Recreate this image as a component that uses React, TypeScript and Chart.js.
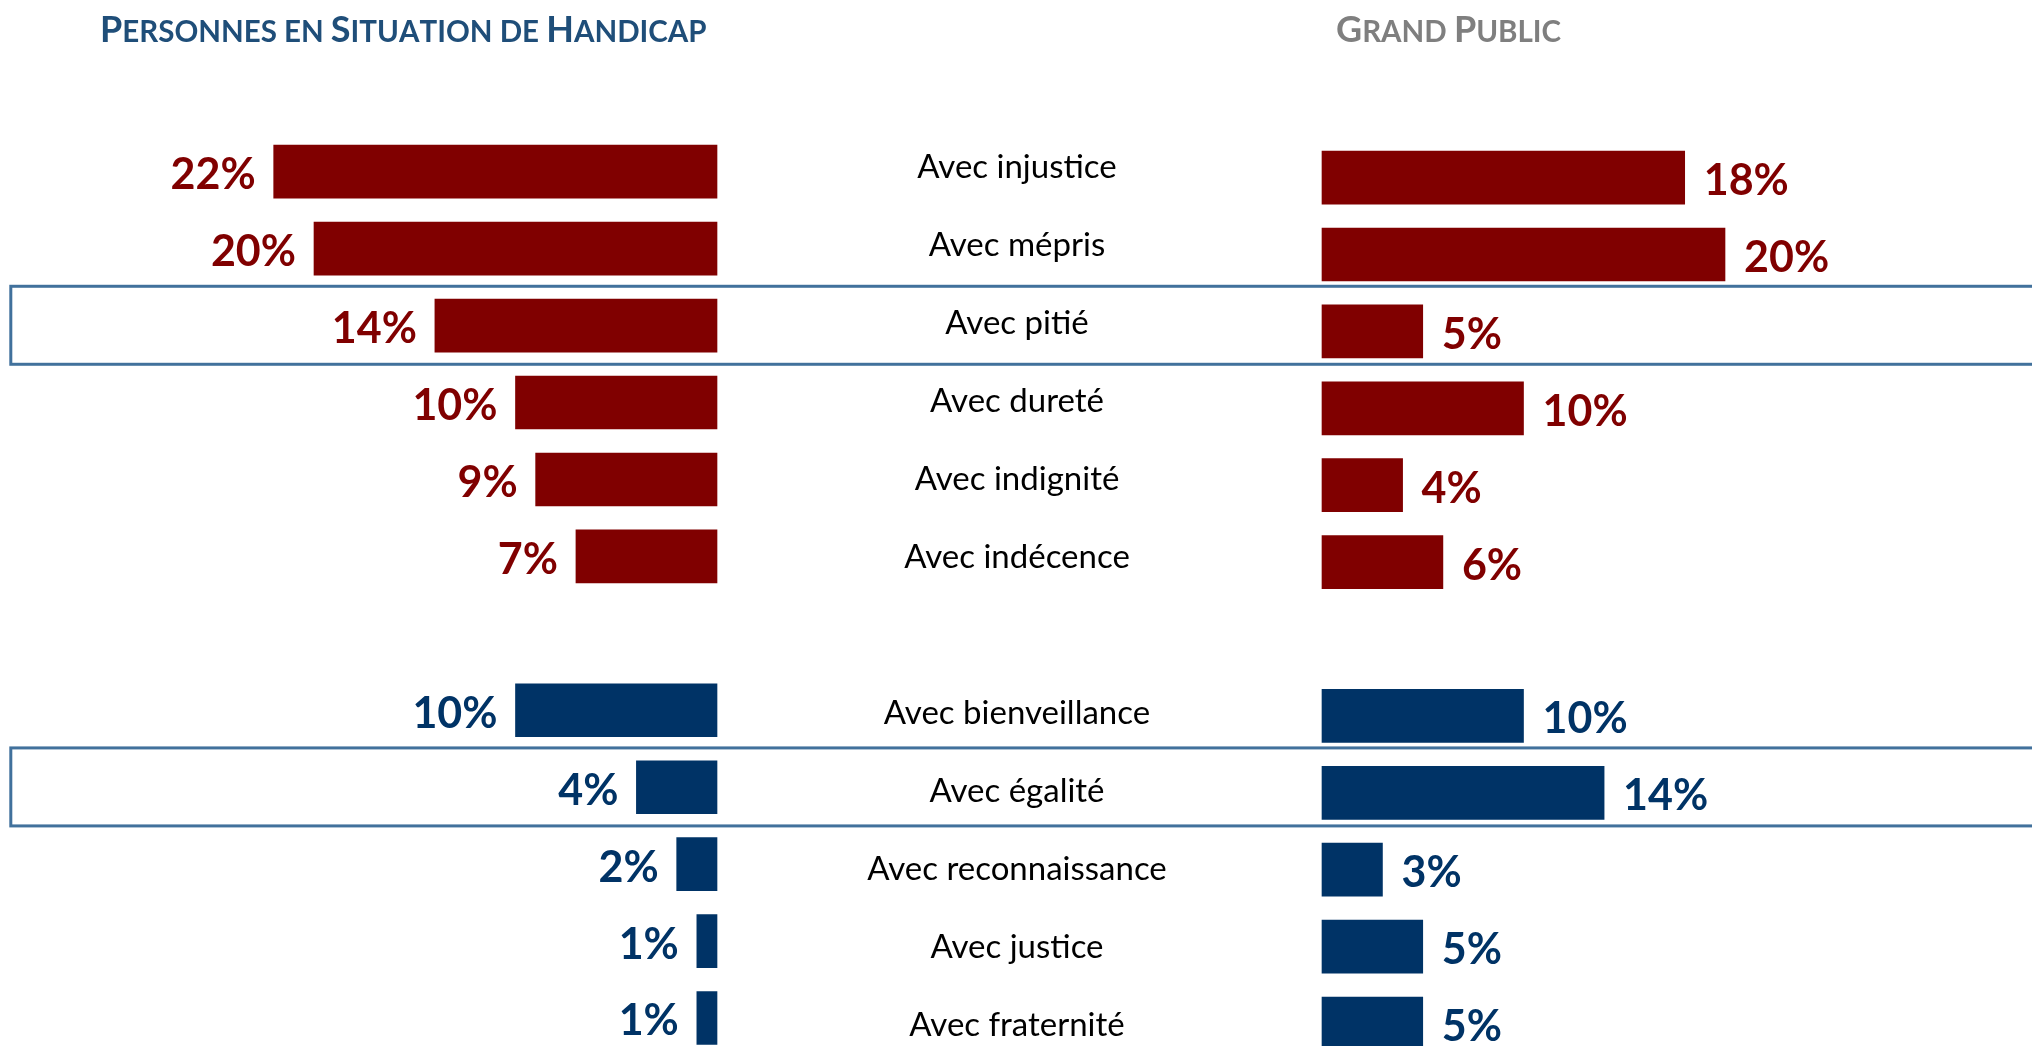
import React, { useEffect, useRef } from 'react';
import { Chart, registerables } from 'chart.js';

Chart.register(...registerables);

// ---------------- DATA ----------------
const negativeCategories = ['Avec injustice', 'Avec mépris', 'Avec pitié', 'Avec dureté', 'Avec indignité', 'Avec indécence'];
const positiveCategories = ['Avec bienveillance', 'Avec égalité', 'Avec reconnaissance', 'Avec justice', 'Avec fraternité'];
const pshNegative = [22, 20, 14, 10, 9, 7];
const gpNegative = [18, 20, 5, 10, 4, 6];
const pshPositive = [10, 4, 2, 1, 1];
const gpPositive = [10, 14, 3, 5, 5];
const highlightedCategories = ['Avec pitié', 'Avec égalité'];
const leftTitle = 'Personnes en Situation de Handicap';
const rightTitle = 'Grand Public';

// rows: negative feelings, one empty row, positive feelings
const rowLabels = [...negativeCategories, '', ...positiveCategories];
const negRows = negativeCategories.map((_, i) => i);
const posRows = positiveCategories.map((_, i) => negativeCategories.length + 1 + i);

// ---------------- STYLE / LAYOUT ----------------
const W = 2032;
const H = 1046;
const MAROON = '#800000';
const NAVY = '#003366';
const BOX_COLOR = '#41719C';
const LEFT_TITLE_COLOR = '#1F4E79';
const RIGHT_TITLE_COLOR = '#7F7F7F';
const FONT = 'Lato, Carlito, Calibri, "Noto Sans", sans-serif';
const PX_PER_PCT = 20.15;
const LEFT_ZERO_PX = 717;
const RIGHT_ZERO_PX = 1322;
const LABEL_CENTER_X = 1017;
const CAP = 0.717;

function forwardRange(anchor: number, ppu: number, len: number) {
  return { min: -anchor / ppu, max: (len - anchor) / ppu };
}
function reversedXRange(anchor: number, ppu: number, len: number) {
  return { min: (anchor - len) / ppu, max: anchor / ppu };
}

const xLRange = reversedXRange(LEFT_ZERO_PX, PX_PER_PCT, W);
const xRRange = forwardRange(RIGHT_ZERO_PX, PX_PER_PCT, W);
const yLRange = forwardRange(171.7, 76.94, H);
const yRRange = forwardRange(177.6, 76.9, H);
const yTRange = forwardRange(166.5, 78.0, H);

function drawSmallCaps(ctx: CanvasRenderingContext2D, text: string, x: number, baseline: number, big: number, small: number, color: string) {
  ctx.save();
  ctx.fillStyle = color;
  ctx.textAlign = 'left';
  ctx.textBaseline = 'alphabetic';
  let cx = x;
  for (const ch of text) {
    const isUpper = ch !== ch.toLowerCase();
    ctx.font = `bold ${isUpper ? big : small}px ${FONT}`;
    const c = ch.toUpperCase();
    ctx.fillText(c, cx, baseline);
    cx += ctx.measureText(c).width;
  }
  ctx.restore();
}

const overlayPlugin = {
  id: 'overlay',
  beforeDatasetsDraw(chart: any) {
    const ctx = chart.ctx as CanvasRenderingContext2D;
    const yL = chart.scales.yL;
    ctx.save();
    ctx.strokeStyle = BOX_COLOR;
    ctx.lineWidth = 3;
    highlightedCategories.forEach((cat) => {
      const r = rowLabels.indexOf(cat);
      const yc = yL.getPixelForValue(r);
      ctx.strokeRect(10.8, yc - 39.3, W + 40, 78);
    });
    ctx.restore();
  },
  afterDatasetsDraw(chart: any) {
    const ctx = chart.ctx as CanvasRenderingContext2D;
    // value labels
    const valueSize = 43;
    chart.data.datasets.forEach((ds: any, di: number) => {
      const meta = chart.getDatasetMeta(di);
      ctx.save();
      ctx.font = `bold ${valueSize}px ${FONT}`;
      ctx.fillStyle = ds.backgroundColor;
      ctx.textBaseline = 'alphabetic';
      meta.data.forEach((el: any, i: number) => {
        const v = ds.data[i].x;
        const y = el.y + 2 + (CAP * valueSize) / 2;
        if (ds.side === 'left') {
          ctx.textAlign = 'right';
          ctx.fillText(`${v}%`, el.x - 18, y);
        } else {
          ctx.textAlign = 'left';
          ctx.fillText(`${v}%`, el.x + 19, y);
        }
      });
      ctx.restore();
    });
    // category labels
    const yT = chart.scales.yT;
    const catSize = 33;
    ctx.save();
    ctx.font = `${catSize}px ${FONT}`;
    ctx.fillStyle = '#000000';
    ctx.textAlign = 'center';
    ctx.textBaseline = 'alphabetic';
    rowLabels.forEach((lab, r) => {
      if (!lab) return;
      ctx.fillText(lab, LABEL_CENTER_X, yT.getPixelForValue(r) + (CAP * catSize) / 2);
    });
    ctx.restore();
    // titles
    drawSmallCaps(ctx, leftTitle, 100, 41.5, 36, 29.5, LEFT_TITLE_COLOR);
    drawSmallCaps(ctx, rightTitle, 1336, 41.5, 36, 29.5, RIGHT_TITLE_COLOR);
  },
};

const hiddenLinear = (range: { min: number; max: number }, reverse: boolean, position: string) => ({
  type: 'linear',
  position,
  reverse,
  display: false,
  offset: false,
  bounds: 'data',
  grid: { offset: false },
  ticks: { includeBounds: false, stepSize: 1 },
  min: range.min,
  max: range.max,
});

export default function App() {
  const canvasRef = useRef<HTMLCanvasElement | null>(null);

  useEffect(() => {
    if (!canvasRef.current) return;
    const chart = new Chart(canvasRef.current, {
      type: 'bar',
      data: {
        datasets: [
          {
            label: 'PSH négatif',
            data: negRows.map((r, i) => ({ x: pshNegative[i], y: r })),
            xAxisID: 'xL',
            yAxisID: 'yL',
            backgroundColor: MAROON,
            side: 'left',
          } as any,
          {
            label: 'PSH positif',
            data: posRows.map((r, i) => ({ x: pshPositive[i], y: r })),
            xAxisID: 'xL',
            yAxisID: 'yL',
            backgroundColor: NAVY,
            side: 'left',
          } as any,
          {
            label: 'GP négatif',
            data: negRows.map((r, i) => ({ x: gpNegative[i], y: r })),
            xAxisID: 'xR',
            yAxisID: 'yR',
            backgroundColor: MAROON,
            side: 'right',
          } as any,
          {
            label: 'GP positif',
            data: posRows.map((r, i) => ({ x: gpPositive[i], y: r })),
            xAxisID: 'xR',
            yAxisID: 'yR',
            backgroundColor: NAVY,
            side: 'right',
          } as any,
        ],
      },
      options: {
        indexAxis: 'y',
        responsive: true,
        maintainAspectRatio: false,
        animation: false,
        layout: { padding: 0 },
        datasets: { bar: { grouped: false, barThickness: 53 } } as any,
        plugins: {
          legend: { display: false },
          tooltip: { enabled: false },
          title: { display: false },
        },
        scales: {
          xL: hiddenLinear(xLRange, true, 'bottom'),
          xR: hiddenLinear(xRRange, false, 'bottom'),
          yL: hiddenLinear(yLRange, true, 'left'),
          yR: hiddenLinear(yRRange, true, 'left'),
          yT: hiddenLinear(yTRange, true, 'left'),
        },
      } as any,
      plugins: [overlayPlugin],
    });
    return () => chart.destroy();
  }, []);

  return (
    <div style={{ position: 'absolute', left: 0, top: 0, width: W, height: H, background: '#ffffff' }}>
      <canvas ref={canvasRef} />
    </div>
  );
}
